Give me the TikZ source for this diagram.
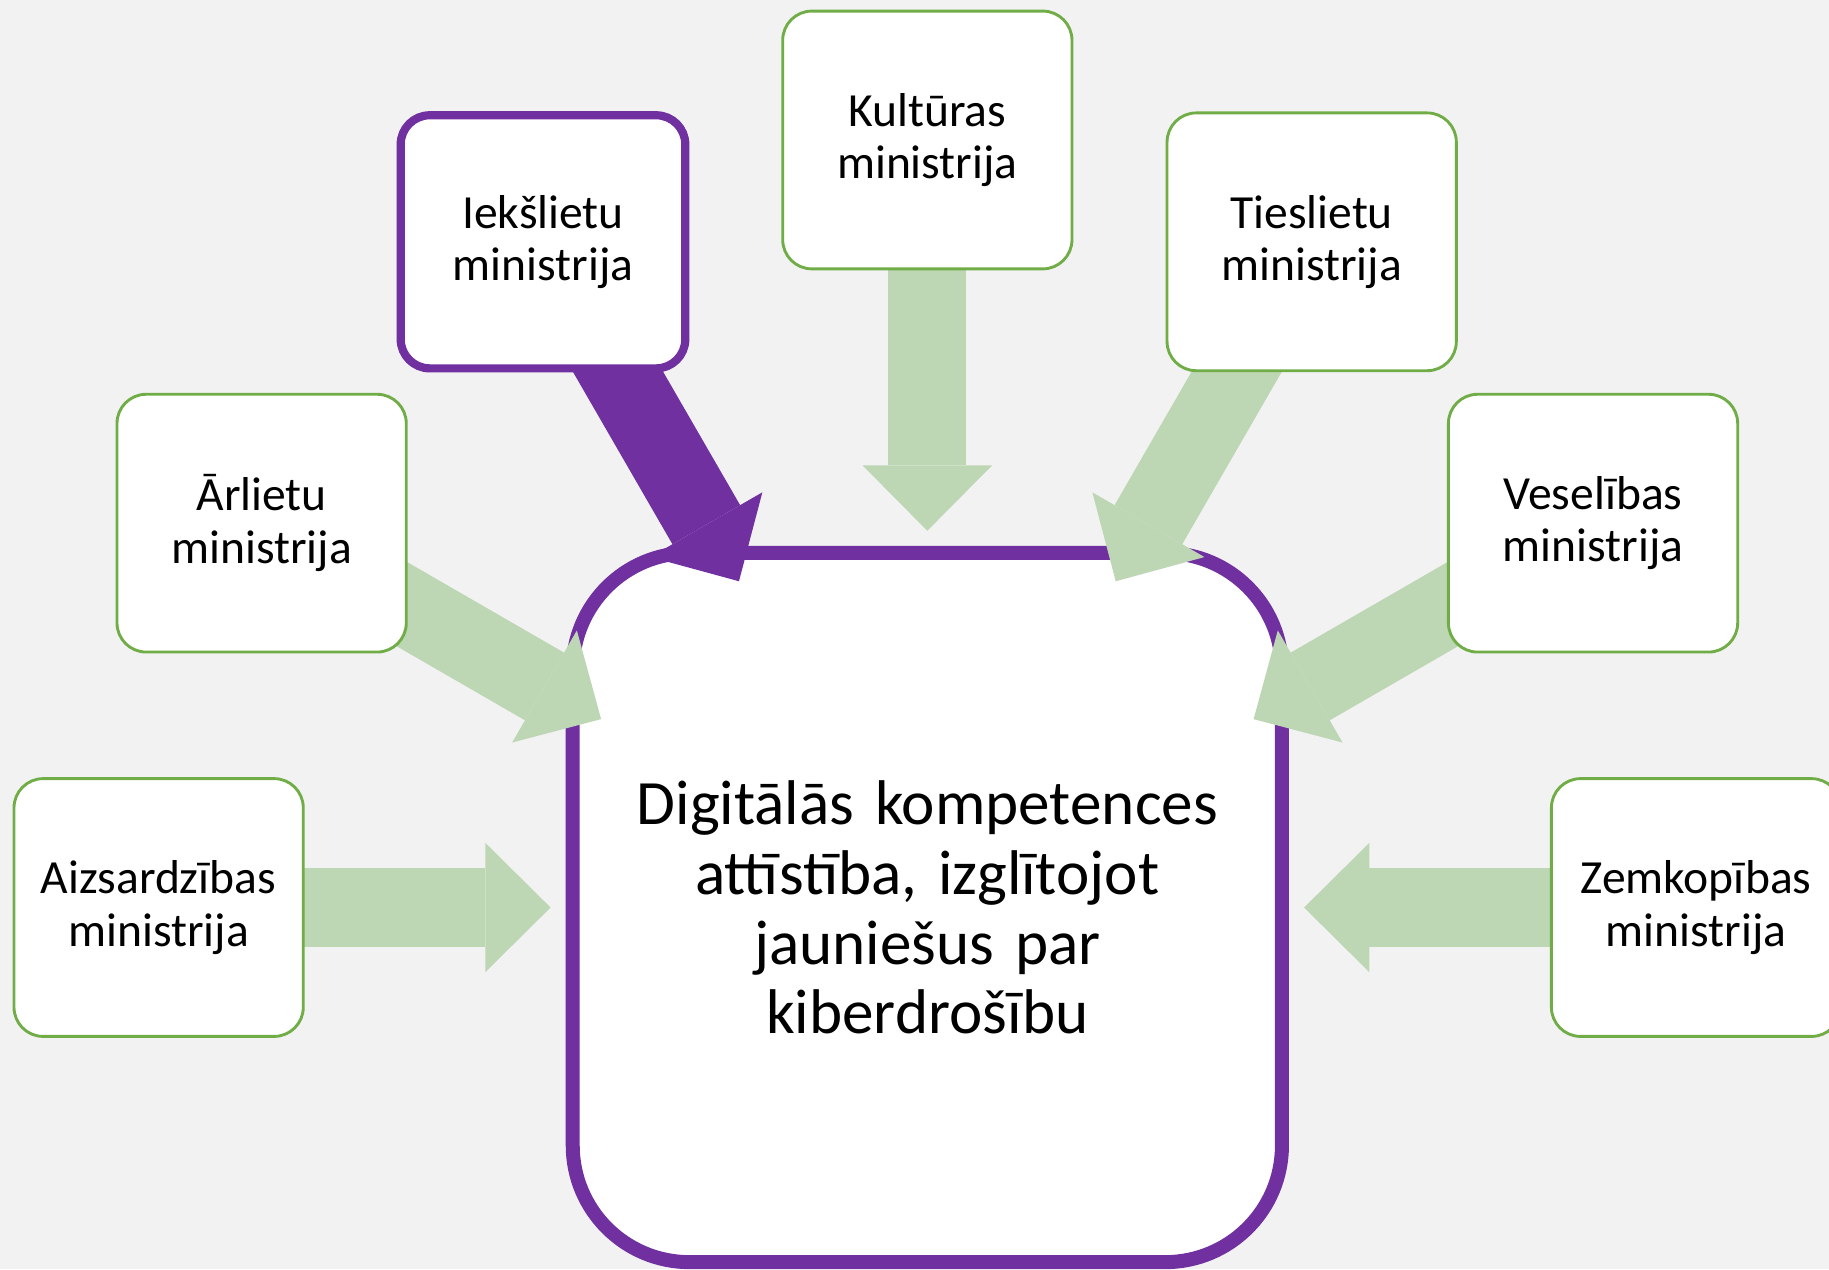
\documentclass[tikz,border=0pt]{standalone}
\usepackage{fontspec}
\setmainfont{Carlito}
\usetikzlibrary{arrows.meta,backgrounds}

\definecolor{bggray}{HTML}{F2F2F2}
\definecolor{mingreen}{HTML}{70AD47}
\definecolor{flowgreen}{RGB}{189,214,180}
\definecolor{minpurple}{HTML}{7030A0}

\pgfdeclarelayer{arrows}
\pgfsetlayers{background,arrows,main}

\tikzset{
  ministry/.style={draw=mingreen, line width=0.7pt, fill=white, rounded corners=0.25cm,
    minimum width=2.48cm, minimum height=2.21cm, align=center,
    font=\fontsize{11.6}{12.8}\selectfont},
  flow/.style={draw, color=flowgreen, line width=0.67cm,
    -{Triangle[width=1.11cm,length=0.56cm,line width=0pt]}},
}

\begin{document}
\begin{tikzpicture}
 \useasboundingbox (0,0) rectangle (15.68,-10.88);
 \begin{pgfonlayer}{background}
  \fill[bggray] (0,0) rectangle (15.68,-10.88);
 \end{pgfonlayer}
 % ministries round the centre
 \draw (7.95,-1.20) node[ministry] (kult) {Kultūras\\ministrija};
 \draw (4.655,-2.073) node[ministry,draw=minpurple,line width=2pt,minimum width=2.44cm,minimum height=2.17cm] (ieksl) {Iekšlietu\\ministrija};
 \draw (11.245,-2.073) node[ministry] (tiesl) {Tieslietu\\ministrija};
 \draw (2.243,-4.485) node[ministry] (arl) {Ārlietu\\ministrija};
 \draw (13.657,-4.485) node[ministry] (vesel) {Veselības\\ministrija};
 \draw (1.36,-7.78) node[ministry] (aizs) {Aizsardzības\\ministrija};
 \draw (14.54,-7.78) node[ministry] (zemk) {Zemkopības\\ministrija};
 \begin{pgfonlayer}{arrows}
  \draw (7.95,-7.78) node[draw=minpurple, line width=0.12cm, fill=white, rounded corners=1cm,
    minimum width=6.08cm, minimum height=6.08cm, text width=5.6cm, align=center,
    font=\fontsize{15.4}{17}\selectfont] (kompet)
    {Digitālās kompetences\\attīstība, izglītojot\\jauniešus par\\kiberdrošību};
  % arrow tips
  \coordinate (tkult) at (7.95,-4.55);
  \coordinate (tieksl) at (6.335,-4.983);
  \coordinate (ttiesl) at (9.565,-4.983);
  \coordinate (tarl) at (5.153,-6.165);
  \coordinate (tvesel) at (10.747,-6.165);
  \coordinate (taizs) at (4.72,-7.78);
  \coordinate (tzemk) at (11.18,-7.78);
  \path[flow] (kult.center) edge (tkult);
  \path[flow,color=minpurple] (ieksl.center) edge (tieksl);
  \path[flow] (tiesl.center) edge (ttiesl);
  \path[flow] (arl.center) edge (tarl);
  \path[flow] (vesel.center) edge (tvesel);
  \path[flow] (aizs.center) edge (taizs);
  \path[flow] (zemk.center) edge (tzemk);
 \end{pgfonlayer}
\end{tikzpicture}
\end{document}
